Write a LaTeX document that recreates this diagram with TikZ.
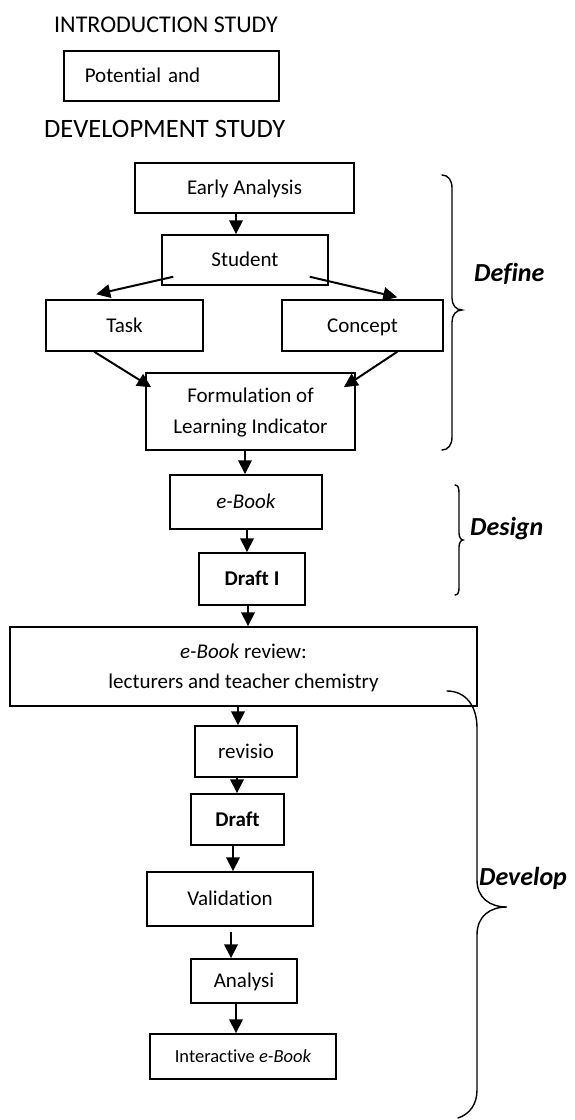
\documentclass[tikz,border=0pt]{standalone}
\usepackage{fontspec}
\setmainfont{Carlito}[Ligatures=NoCommon]
\usetikzlibrary{arrows.meta,calc}
\begin{document}
\begin{tikzpicture}[x=1pt,y=-1pt,
  box/.style={draw,line width=1.5pt,inner sep=0pt,text height=13.5pt,text depth=0pt,align=center,font=\fontsize{21}{31}\selectfont},
  twoline/.style={text height=44.5pt,text depth=0pt},
  arr/.style={line width=2pt,-{Triangle[length=14pt,width=13.5pt]}},
  phase/.style={font=\fontsize{26}{30}\selectfont\bfseries\itshape,anchor=base west,inner sep=0pt},
  head/.style={anchor=base west,inner sep=0pt},
  brace/.style={line width=1.4pt,line cap=round}]
\useasboundingbox (0,0) rectangle (575,1120);

% headings
\node[head,font=\fontsize{24}{28}\selectfont] (intro) at (54,32.2) {INTRODUCTION STUDY};
\node[box,anchor=west,text width=173pt,align=left,inner xsep=21pt,minimum height=50pt] (pot) at (63,76) {Potential and};
\node[head,font=\fontsize{26.5}{30}\selectfont] (dev) at (44,137) {DEVELOPMENT STUDY};

% boxes
\node[box,minimum width=219pt,minimum height=50pt] (early) at (244.5,188) {Early Analysis};
\node[box,minimum width=166pt,minimum height=50pt] (student) at (245,260) {Student};
\node[box,minimum width=157pt,minimum height=51pt] (task) at (124.5,325.5) {Task};
\node[box,minimum width=161pt,minimum height=51pt] (concept) at (362.5,325.5) {Concept};
\node[box,twoline,minimum width=209pt,minimum height=77pt] (form) at (250.5,411.5) {Formulation of\\Learning Indicator};
\node[box,minimum width=152pt,minimum height=54pt] (ebook) at (246,502) {\textit{e-Book}};
\node[box,minimum width=106pt,minimum height=52pt] (draft1) at (252,579) {\textbf{Draft I}};
\node[box,twoline,text height=43.5pt,font=\fontsize{21}{30}\selectfont,minimum width=467pt,minimum height=79pt] (review) at (243.5,666.5) {\textit{e-Book} review:\\lecturers and teacher chemistry};
\node[box,minimum width=102pt,minimum height=51pt] (revisio) at (246,751.5) {revisio};
\node[box,minimum width=93pt,minimum height=51pt] (draft) at (237.5,819.5) {\textbf{Draft}};
\node[box,minimum width=166pt,minimum height=54pt] (valid) at (230,899) {Validation};
\node[box,minimum width=106pt,minimum height=44pt] (analysi) at (244,981) {Analysi};
\node[box,font=\fontsize{18.5}{22}\selectfont,text height=11.9pt,minimum width=186pt,minimum height=45pt] (inter) at (243,1056.5) {Interactive \textit{e-Book}};

% vertical arrows
\draw[arr] (236,0 |- early.south) -- (236,0 |- student.north);
\draw[arr] (245,0 |- form.south) -- (245,0 |- ebook.north);
\draw[arr] (247,0 |- ebook.south) -- (247,0 |- draft1.north);
\draw[arr] (248,0 |- draft1.south) -- (248,0 |- review.north);
\draw[arr] (238,0 |- review.south) -- (238,0 |- revisio.north);
\draw[arr] (237,0 |- revisio.south) -- (237,0 |- draft.north);
\draw[arr] (233,0 |- draft.south) -- (233,0 |- valid.north);
\draw[arr,shorten <=5pt] (231,0 |- valid.south) -- (231,0 |- analysi.north);
\draw[arr] (236,0 |- analysi.south) -- (236,0 |- inter.north);

% diagonal arrows
\draw[arr] ($(student.south west)+(12,-9)$) -- ($(task.north west)+(51,-5)$);
\draw[arr] ($(student.south east)+(-19,-9)$) -- ($(concept.north west)+(116,-2)$);
\draw[arr] ($(task.south west)+(49,0)$) -- ($(form.north west)+(6,15)$);
\draw[arr] ($(concept.south west)+(116,0)$) -- ($(form.north east)+(-12,15)$);

% braces
\draw[brace] (442,175) .. controls (448,175) and (452,180) .. (452,188) -- (452,298)
  .. controls (452,305) and (456,310) .. (462,310)
  .. controls (456,310) and (452,315) .. (452,322) -- (452,437)
  .. controls (452,445) and (448,450) .. (442,450);
\draw[brace] (455,485) .. controls (458,485) and (459,488) .. (459,493) -- (459,533)
  .. controls (459,537) and (461,540) .. (463,540)
  .. controls (461,540) and (459,543) .. (459,547) -- (459,588)
  .. controls (459,592) and (458,595) .. (455,595);
\draw[brace] (447,691) .. controls (465,691) and (477,705) .. (477,728) -- (477,880)
  .. controls (477,898) and (490,907) .. (507,907)
  .. controls (490,907) and (477,916) .. (477,935) -- (477,1090)
  .. controls (477,1104) and (470,1114) .. (458,1118);

% phase labels
\node[phase] (define) at (474,281) {Define};
\node[phase] (design) at (470,535) {Design};
\node[phase] (develop) at (479,885) {Develop};
\end{tikzpicture}
\end{document}
